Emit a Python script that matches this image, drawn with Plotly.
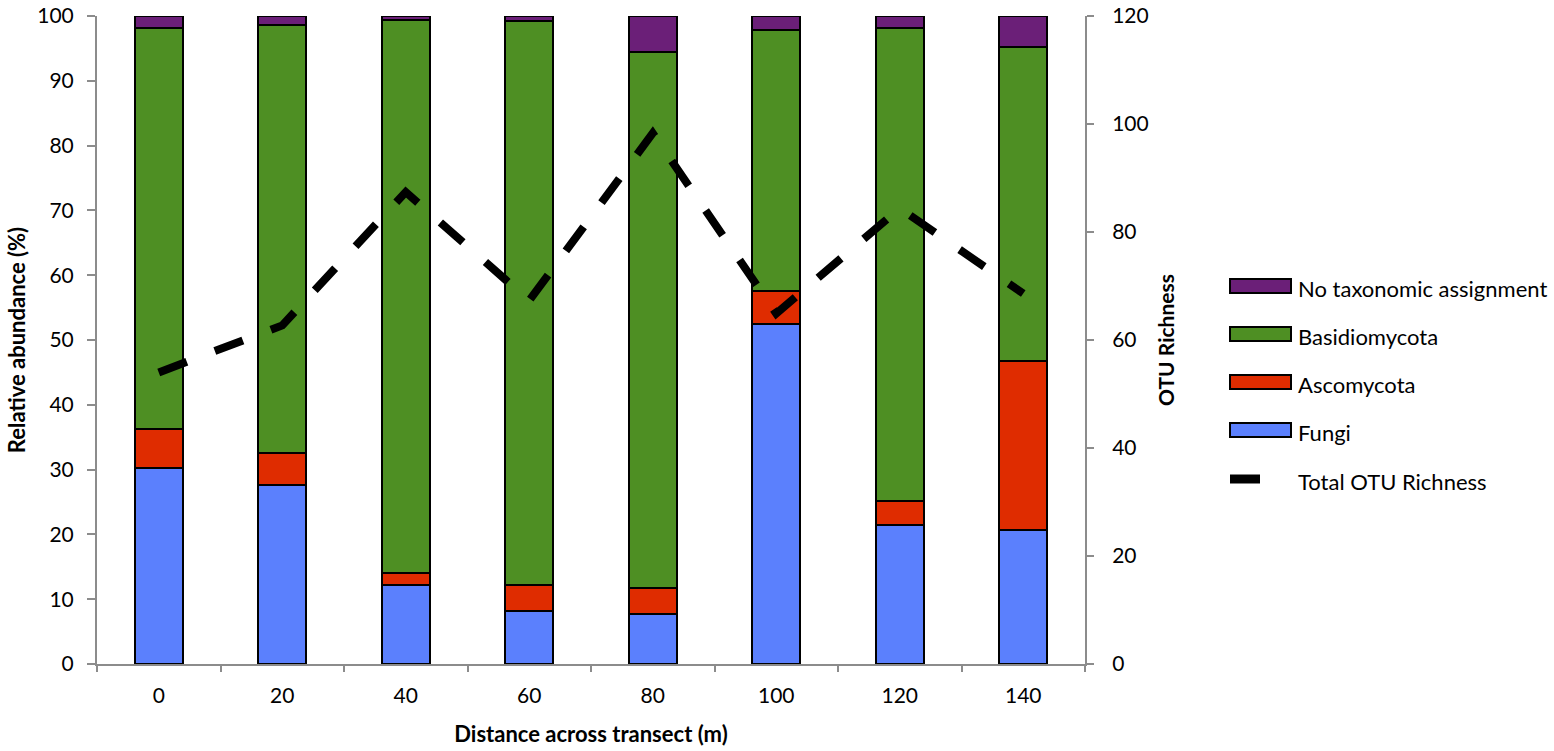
import plotly.graph_objects as go

distances = ["0", "20", "40", "60", "80", "100", "120", "140"]
fungi = [30.3, 27.7, 12.2, 8.2, 7.7, 52.5, 21.5, 20.7]
ascomycota = [6.0, 4.9, 1.9, 4.0, 4.0, 5.0, 3.7, 26.0]
basidiomycota = [61.8, 66.0, 85.3, 87.0, 82.7, 40.3, 72.9, 48.5]
no_tax = [1.9, 1.4, 0.6, 0.8, 5.6, 2.2, 1.9, 4.8]
otu_richness = [54.0, 62.7, 87.4, 67.3, 98.3, 64.9, 84.4, 68.6]

legend_names = ["No taxonomic assignment", "Basidiomycota", "Ascomycota", "Fungi", "Total OTU Richness"]
colors = {"Fungi": "#5b80fd", "Ascomycota": "#df2c00",
          "Basidiomycota": "#4e8f23", "No taxonomic assignment": "#6b1f78"}

FONT = "Lato"
W, H = 1554, 751
ML, MT = 97, 16
PR, PB = 1085, 664
MR, MB = W - PR, H - PB
PW, PH = PR - ML, PB - MT

fig = go.Figure()

series = [("Fungi", fungi), ("Ascomycota", ascomycota),
          ("Basidiomycota", basidiomycota), ("No taxonomic assignment", no_tax)]
for name, vals in series:
    fig.add_trace(go.Bar(
        x=distances, y=vals, name=name,
        marker=dict(color=colors[name], line=dict(color="black", width=2)),
    ))
fig.add_trace(go.Scatter(
    x=distances, y=otu_richness, yaxis="y2", mode="lines",
    name="Total OTU Richness",
    line=dict(color="black", width=8, dash="30px,30px"),
))

# hand-drawn legend (wide swatches like the original), pixel -> paper
def px_x(p):
    return (p - ML) / PW

def px_y(p):
    return (PB - p) / PH

shapes, annots = [], []
row_y = [286, 334, 382, 430, 479]
for name, cy in zip(legend_names, row_y):
    if name in colors:
        shapes.append(dict(type="rect", xref="paper", yref="paper",
                           x0=px_x(1230), x1=px_x(1291), y0=px_y(cy - 7), y1=px_y(cy + 7),
                           fillcolor=colors[name], line=dict(color="black", width=2)))
    else:
        shapes.append(dict(type="line", xref="paper", yref="paper",
                           x0=px_x(1230), x1=px_x(1260), y0=px_y(cy), y1=px_y(cy),
                           line=dict(color="black", width=9)))
    annots.append(dict(text=name, xref="paper", yref="paper", x=px_x(1296), y=px_y(cy + 2),
                       xanchor="left", yanchor="middle", showarrow=False,
                       font=dict(family=FONT, size=22, color="black")))

axis_col = "#8c8c8c"
fig.update_layout(
    width=W, height=H,
    margin=dict(l=ML, r=MR, t=MT, b=MB),
    paper_bgcolor="white", plot_bgcolor="white",
    barmode="stack", bargap=0.61,
    font=dict(family=FONT, size=21, color="black"),
    showlegend=False,
    shapes=shapes, annotations=annots,
    xaxis=dict(
        type="category", showline=True, linecolor=axis_col, linewidth=2,
        ticks="outside", tickson="boundaries", tickcolor=axis_col, ticklen=6, tickwidth=2,
        ticklabelstandoff=12,
        tickfont=dict(size=21), showgrid=False, automargin=False,
        title=dict(text="<b>Distance across transect (m)</b>", font=dict(size=22), standoff=20),
    ),
    yaxis=dict(
        range=[0, 100], dtick=10, showline=True, linecolor=axis_col, linewidth=2,
        ticks="outside", tickcolor=axis_col, ticklen=8, tickwidth=2,
        ticklabelstandoff=9,
        tickfont=dict(size=21), showgrid=False, zeroline=False, automargin=False,
        title=dict(text="<b>Relative abundance (%)</b>", font=dict(size=22), standoff=6),
    ),
    yaxis2=dict(
        overlaying="y", side="right", range=[0, 120], dtick=20,
        showline=True, linecolor=axis_col, linewidth=2,
        ticks="outside", tickcolor=axis_col, ticklen=7, tickwidth=2,
        ticklabelstandoff=14,
        tickfont=dict(size=21), showgrid=False, zeroline=False, automargin=False,
        title=dict(text="<b>OTU Richness</b>", font=dict(size=21), standoff=12),
    ),
)

fig.write_html("out.html", config={"displayModeBar": False},
               post_script="document.body.style.margin='0px';")
